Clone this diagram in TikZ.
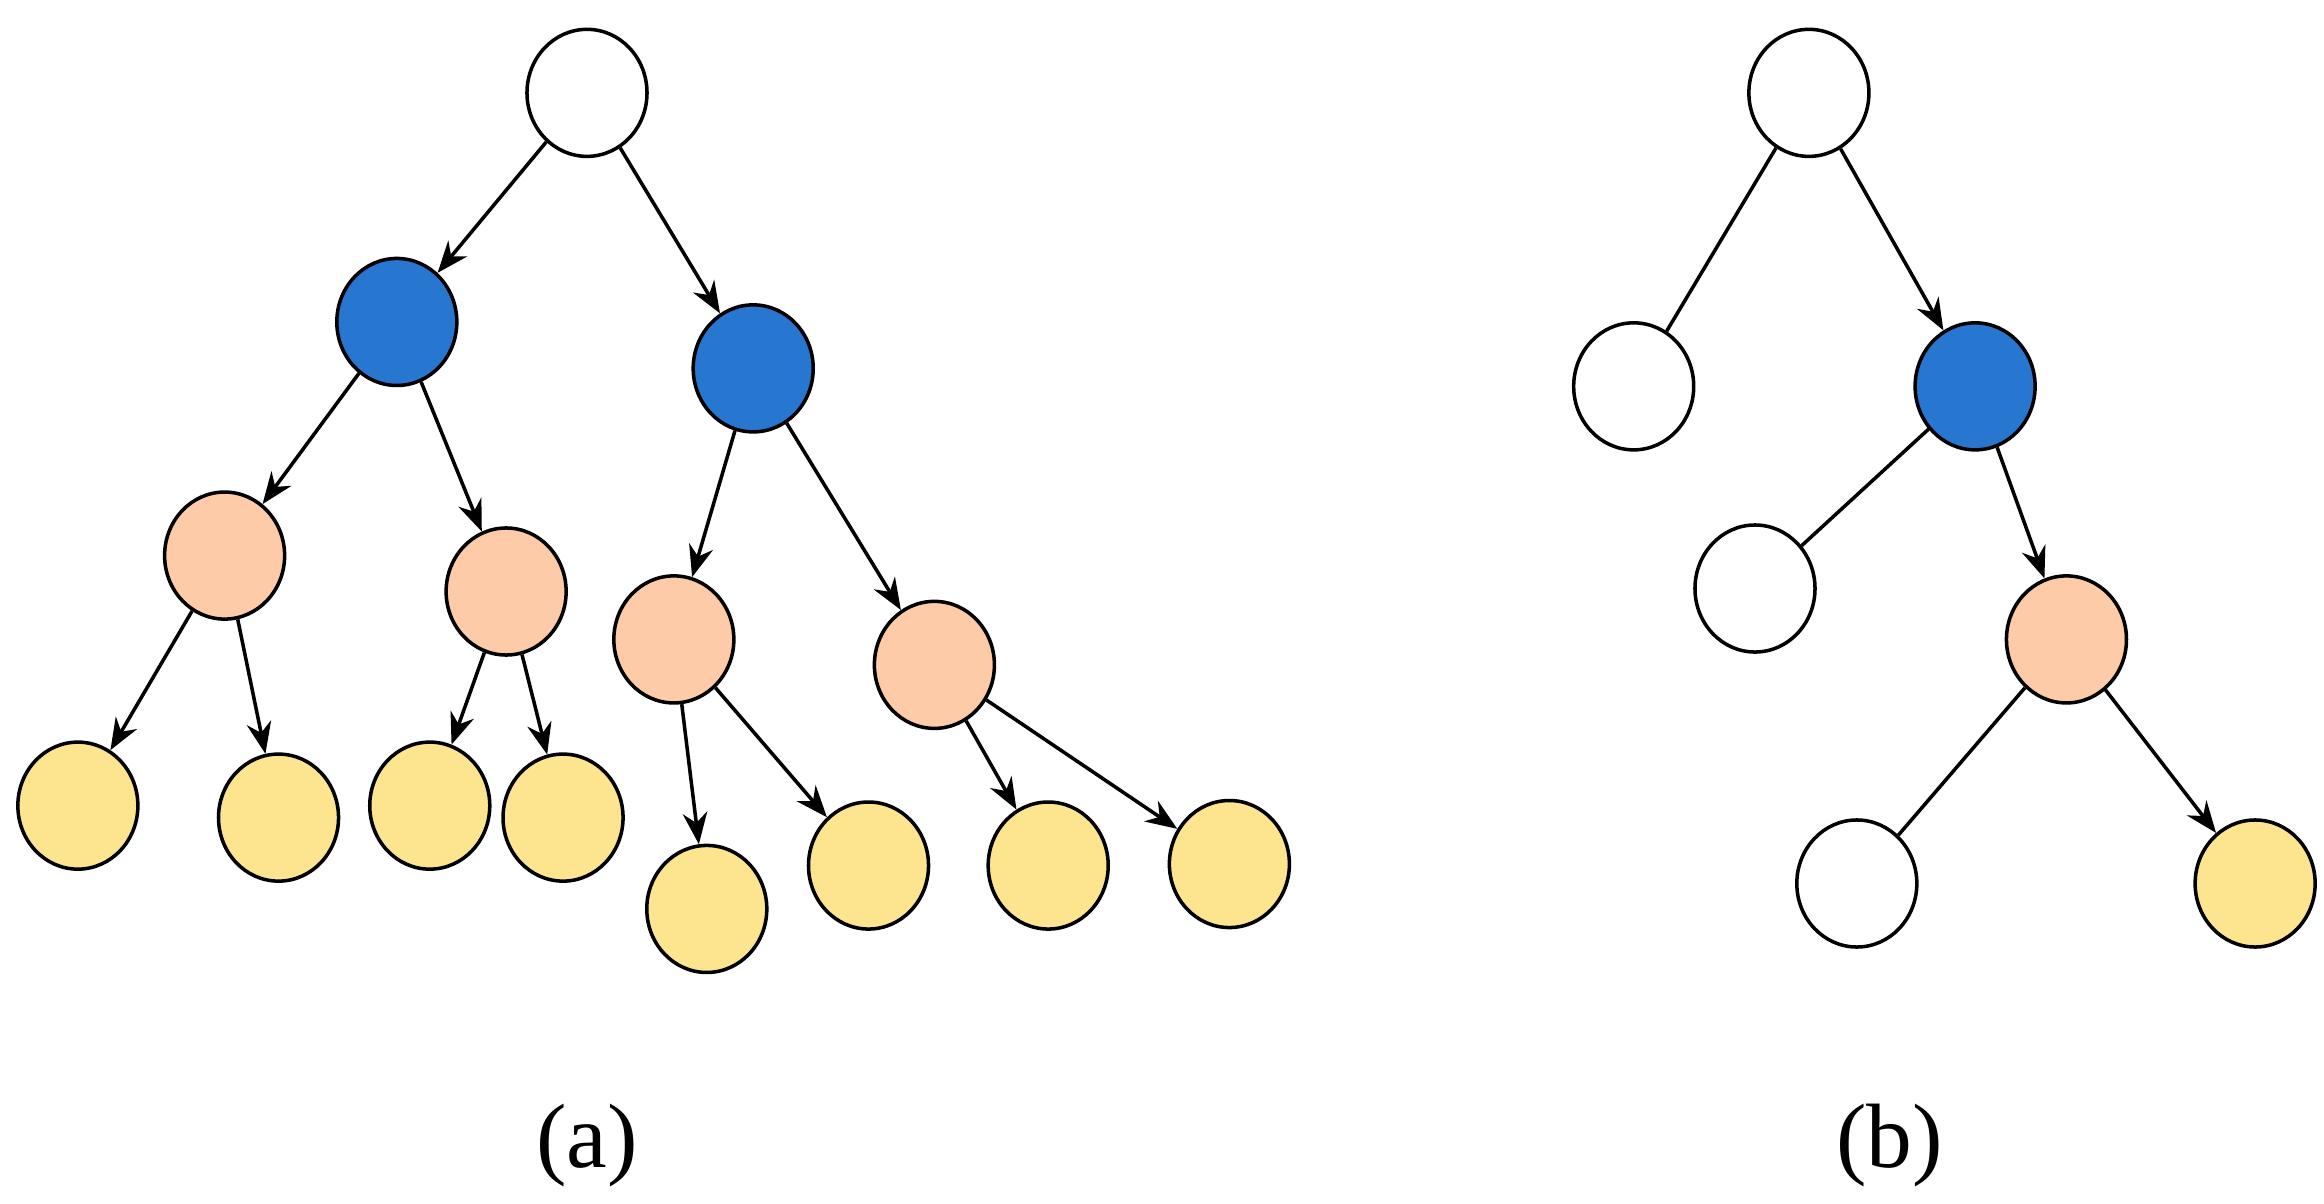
\documentclass[tikz,border=0pt]{standalone}
\usepackage{fontspec}
\setmainfont{Liberation Serif}
\usetikzlibrary{shapes.geometric,arrows.meta}
\definecolor{nblue}{HTML}{2776D0}
\definecolor{norange}{HTML}{FDCBA8}
\definecolor{nyellow}{HTML}{FDE590}
\begin{document}
\begin{tikzpicture}[x=0.01497cm, y=-0.01497cm, line width=1pt,
	vert/.style = {ellipse,
		draw,
		minimum width = 1.2cm,
		minimum height = 1.27cm,
		fill=white},
	arr/.style = {-{Stealth[length=9pt,width=7pt]}},
	subcap/.style = {font=\fontsize{26}{30}\selectfont}]

	\useasboundingbox (0,0) rectangle (1552,804);

	% Tree (a)
	\node[vert] (r) at (392,62) {};
	\node[vert, fill=nblue] (b1) at (265,215) {};
	\node[vert, fill=nblue] (b2) at (503,246) {};
	\node[vert, fill=norange] (o1) at (150,371) {};
	\node[vert, fill=norange] (o2) at (338,395) {};
	\node[vert, fill=norange] (o3) at (450,427) {};
	\node[vert, fill=norange] (o4) at (624,444) {};
	\node[vert, fill=nyellow] (y1) at (52,538) {};
	\node[vert, fill=nyellow] (y2) at (186,546) {};
	\node[vert, fill=nyellow] (y3) at (287,538) {};
	\node[vert, fill=nyellow] (y4) at (376,546) {};
	\node[vert, fill=nyellow] (y5) at (472,607) {};
	\node[vert, fill=nyellow] (y6) at (580,578) {};
	\node[vert, fill=nyellow] (y7) at (700,578) {};
	\node[vert, fill=nyellow] (y8) at (821,577) {};

	\foreach \a/\b in {r/b1, r/b2, b1/o1, b1/o2, b2/o3, b2/o4,
		o1/y1, o1/y2, o2/y3, o2/y4, o3/y5, o3/y6, o4/y7, o4/y8}
		\draw[arr] (\a) -- (\b);

	\node[subcap] (capa) at (392,765) {(a)};

	% Tree (b)
	\node[vert] (rb) at (1208,62) {};
	\node[vert] (w1) at (1091,258) {};
	\node[vert, fill=nblue] (bb) at (1319,258) {};
	\node[vert] (w2) at (1172,393) {};
	\node[vert, fill=norange] (ob) at (1380,427) {};
	\node[vert] (w3) at (1240,590) {};
	\node[vert, fill=nyellow] (yb) at (1506,590) {};

	\draw (rb) -- (w1);
	\draw (bb) -- (w2);
	\draw (ob) -- (w3);
	\draw[arr] (rb) -- (bb);
	\draw[arr] (bb) -- (ob);
	\draw[arr] (ob) -- (yb);

	\node[subcap] (capb) at (1262,765) {(b)};

\end{tikzpicture}
\end{document}
